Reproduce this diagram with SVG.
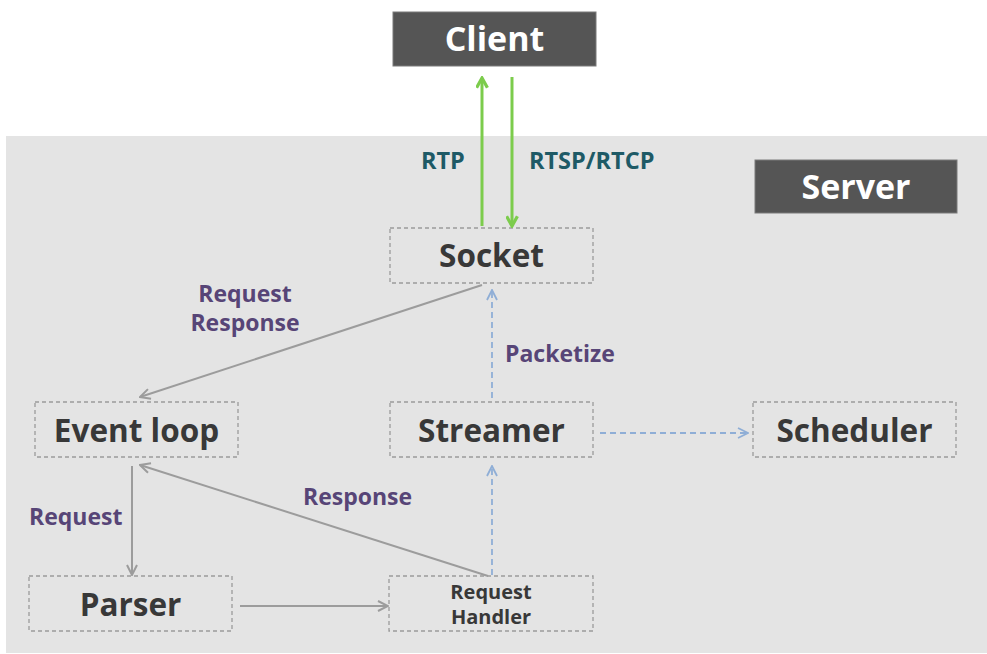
<svg xmlns="http://www.w3.org/2000/svg" width="987" height="654" viewBox="0 0 987 654">
  <style>
    .node { fill: none; stroke: #9a9a9a; stroke-width: 1.3; stroke-dasharray: 4 3; }
    .dark { fill: #555555; stroke: #7a7a7a; stroke-width: 1; }
    .ntext { font-family: "Open Sans", "Noto Sans", sans-serif; font-weight: bold; font-size: 31.5px; fill: #383838; text-anchor: middle; }
    .wtext { font-family: "Open Sans", "Noto Sans", sans-serif; font-weight: bold; font-size: 34px; fill: #ffffff; text-anchor: middle; }
    .small { font-family: "Open Sans", "Noto Sans", sans-serif; font-weight: bold; font-size: 20px; fill: #383838; text-anchor: middle; }
    .lbl { font-family: "Open Sans", "Noto Sans", sans-serif; font-weight: bold; font-size: 23px; fill: #574577; }
    .proto { font-family: "Open Sans", "Noto Sans", sans-serif; font-weight: bold; font-size: 23.5px; fill: #1e5a66; }
    .gray { stroke: #9c9c9c; stroke-width: 2; fill: none; }
    .blue { stroke: #8faed6; stroke-width: 1.8; fill: none; stroke-dasharray: 6 4; }
    .green { stroke: #7ccc4c; stroke-width: 3; fill: none; }
  </style>
  <defs>
    <marker id="ah-gray" viewBox="0 0 12 12" refX="11" refY="6" markerWidth="12" markerHeight="12" markerUnits="userSpaceOnUse" orient="auto">
      <path d="M1,1 L11,6 L1,11" fill="none" stroke="#9c9c9c" stroke-width="2"/>
    </marker>
    <marker id="ah-blue" viewBox="0 0 12 12" refX="11" refY="6" markerWidth="12" markerHeight="12" markerUnits="userSpaceOnUse" orient="auto">
      <path d="M1,1 L11,6 L1,11" fill="none" stroke="#8faed6" stroke-width="1.8"/>
    </marker>
    <marker id="ah-green" viewBox="0 0 12 12" refX="10" refY="6" markerWidth="13" markerHeight="13" markerUnits="userSpaceOnUse" orient="auto">
      <path d="M1,1 L10,6 L1,11" fill="none" stroke="#7ccc4c" stroke-width="3"/>
    </marker>
  </defs>

  <rect width="987" height="654" fill="#ffffff"/>
  <!-- server area -->
  <rect x="6" y="136" width="981" height="517" fill="#e4e4e4"/>

  <g id="client">
    <rect class="dark" x="393" y="12" width="203" height="54"/>
    <text class="wtext" x="494.5" y="51">Client</text>
  </g>
  <g id="server">
    <rect class="dark" x="755" y="160" width="202" height="53"/>
    <text class="wtext" x="856" y="199">Server</text>
  </g>
  <g id="socket">
    <rect class="node" x="390" y="228" width="203" height="55"/>
    <text class="ntext" x="491.5" y="267">Socket</text>
  </g>
  <g id="event-loop">
    <rect class="node" x="35" y="402" width="203" height="55"/>
    <text class="ntext" x="136.5" y="442">Event loop</text>
  </g>
  <g id="streamer">
    <rect class="node" x="390" y="402" width="203" height="55"/>
    <text class="ntext" x="491.5" y="442">Streamer</text>
  </g>
  <g id="scheduler">
    <rect class="node" x="753" y="402" width="203" height="55"/>
    <text class="ntext" x="854.5" y="442">Scheduler</text>
  </g>
  <g id="parser">
    <rect class="node" x="29" y="576" width="203" height="55"/>
    <text class="ntext" x="130.5" y="616">Parser</text>
  </g>
  <g id="request-handler">
    <rect class="node" x="389" y="576" width="204" height="55"/>
    <text class="small" x="491" y="599">Request</text>
    <text class="small" x="491" y="624">Handler</text>
  </g>

  <g id="connectors">
    <line class="green" x1="482" y1="226" x2="482" y2="78" marker-end="url(#ah-green)"/>
    <line class="green" x1="512" y1="77" x2="512" y2="226" marker-end="url(#ah-green)"/>
    <line class="gray" x1="482" y1="285" x2="140" y2="397" marker-end="url(#ah-gray)"/>
    <line class="blue" x1="492" y1="398" x2="492" y2="290" marker-end="url(#ah-blue)"/>
    <line class="blue" x1="600" y1="433" x2="748" y2="433" marker-end="url(#ah-blue)"/>
    <line class="gray" x1="132" y1="466" x2="132" y2="575" marker-end="url(#ah-gray)"/>
    <line class="gray" x1="240" y1="606" x2="388" y2="606" marker-end="url(#ah-gray)"/>
    <line class="gray" x1="488" y1="576" x2="140" y2="465" marker-end="url(#ah-gray)"/>
    <line class="blue" x1="492" y1="575" x2="492" y2="466" marker-end="url(#ah-blue)"/>
  </g>

  <g id="labels">
    <text class="proto" x="421" y="169">RTP</text>
    <text class="proto" x="529" y="169">RTSP/RTCP</text>
    <text class="lbl" x="245" y="302" text-anchor="middle">Request</text>
    <text class="lbl" x="245" y="331" text-anchor="middle">Response</text>
    <text class="lbl" x="505" y="362">Packetize</text>
    <text class="lbl" x="29" y="525">Request</text>
    <text class="lbl" x="303" y="505">Response</text>
  </g>
</svg>
